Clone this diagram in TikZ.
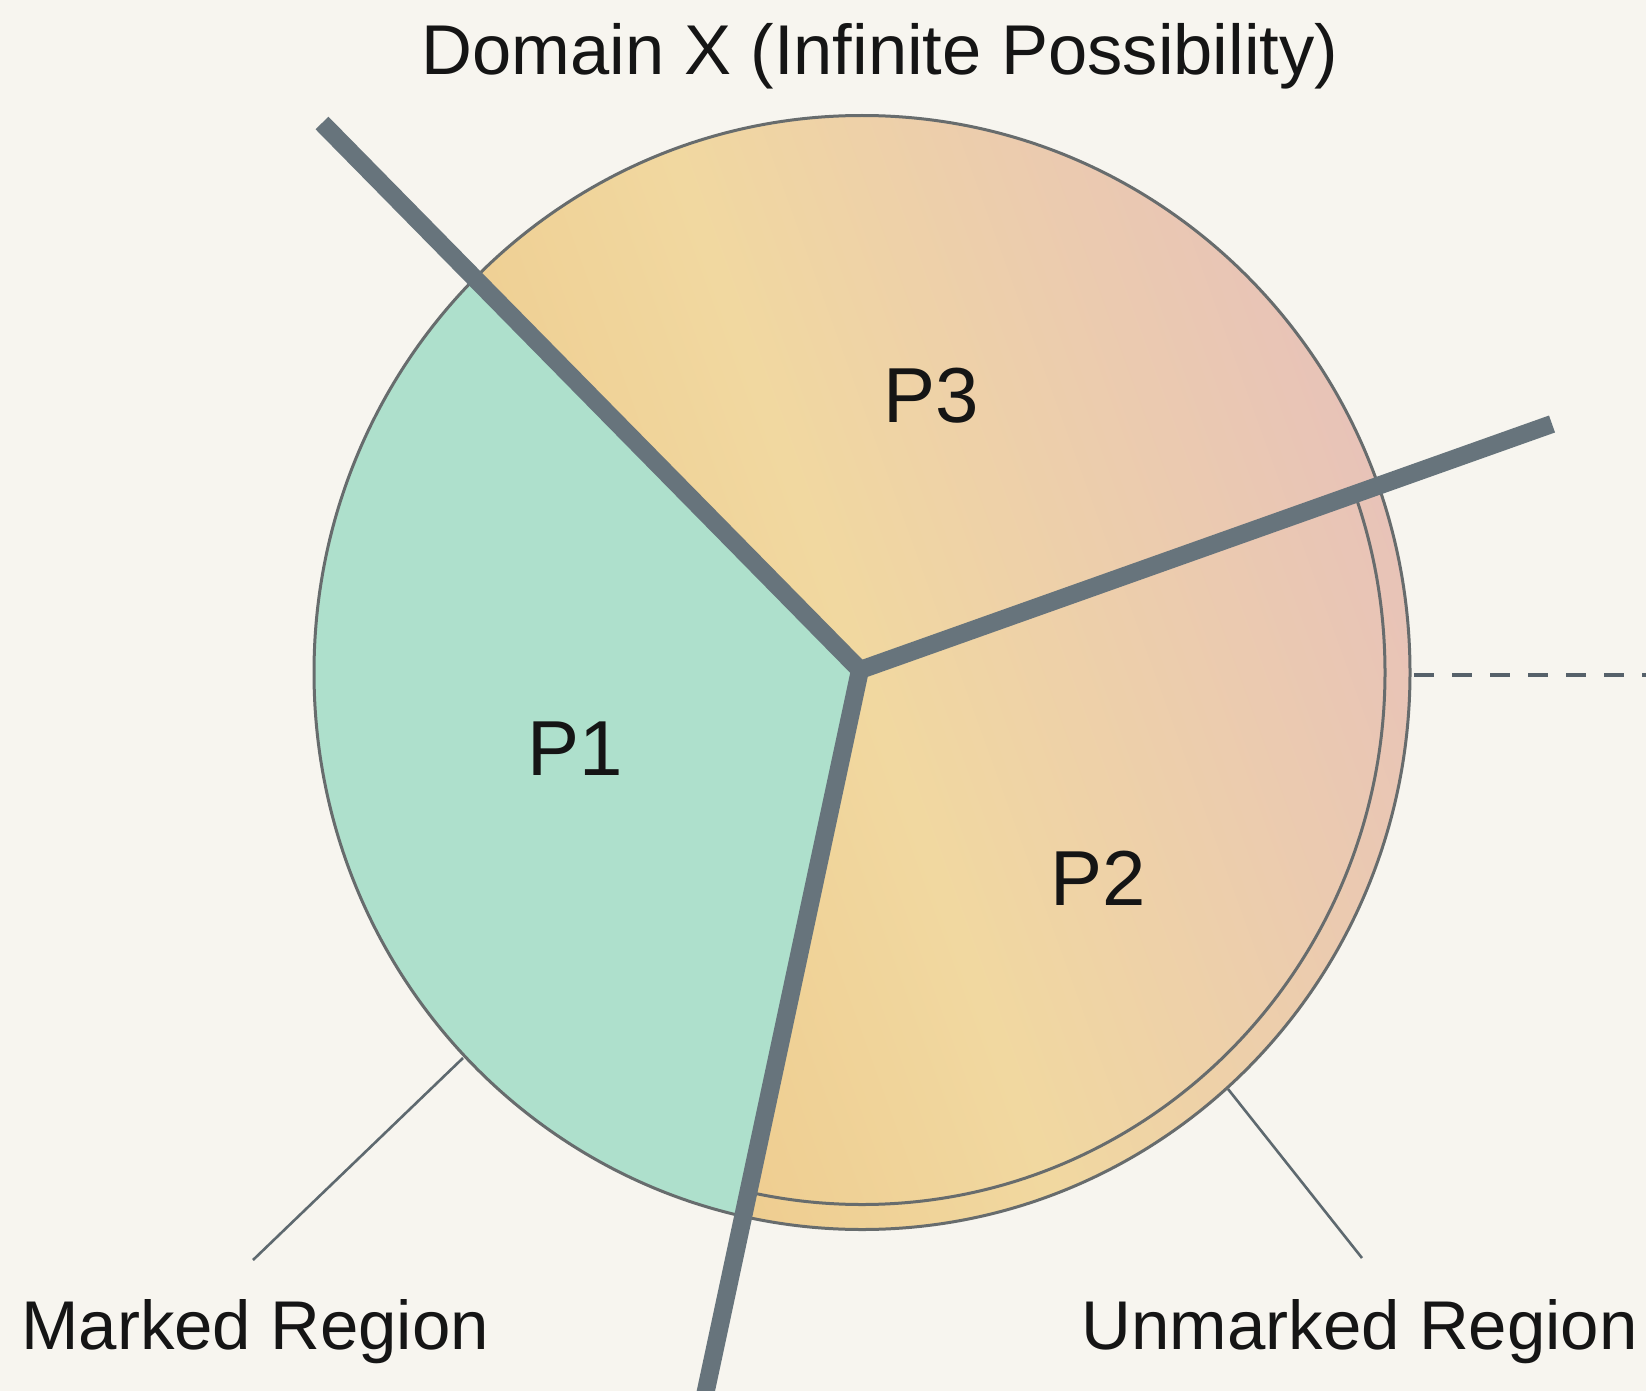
\documentclass[tikz,border=0pt]{standalone}
\usepackage{fontspec}
\setmainfont{Liberation Sans}
\definecolor{bg}{HTML}{F7F5EF}
\definecolor{mint}{HTML}{AEE0CC}
\definecolor{gold}{HTML}{ECC483}
\definecolor{yel}{HTML}{F1D8A0}
\definecolor{pinkc}{HTML}{E8C3B8}
\definecolor{rim}{HTML}{676C6D}
\definecolor{bar}{HTML}{67747C}
\definecolor{dash}{HTML}{56616A}
\definecolor{lead}{HTML}{5E696F}
\definecolor{ink}{HTML}{151515}
\begin{document}
\begin{tikzpicture}[x=1pt,y=-1pt,
  bigtext/.style={font=\fontsize{69}{80}\selectfont, text=ink, inner sep=0pt},
  ptext/.style={font=\fontsize{78}{90}\selectfont, text=ink, inner sep=0pt},
  rimline/.style={draw=rim, line width=3pt},
  divider/.style={draw=bar, line width=18pt, line join=miter},
  leader/.style={draw=lead, line width=2.6pt},
  dashline/.style={draw=dash, line width=4pt, dash pattern=on 20pt off 18pt},
  warmfill/.style={left color=gold, right color=pinkc, middle color=yel, shading angle=110}
]
\fill[bg] (0,0) rectangle (1646,1391);
\useasboundingbox (0,0) rectangle (1646,1391);
% geometry
\coordinate (C) at (862,672.5);
\coordinate (J) at (860,670);
\coordinate (ul) at (322,123);
\coordinate (rt) at (1552,424);
\coordinate (bt) at (705,1395);
% disk
\shade[warmfill] (C) ellipse [x radius=548pt, y radius=557pt];
\begin{scope}
  \clip (J) -- (rt) -- (1650,424) -- (1650,1395) -- (bt) -- cycle;
  \draw[rimline] (C) ellipse [x radius=523pt, y radius=532pt];
\end{scope}
\begin{scope}
  \clip (C) ellipse [x radius=548pt, y radius=557pt];
  \fill[mint] (J) -- (ul) -- (0,123) -- (0,1395) -- (bt) -- cycle;
\end{scope}
\draw[rimline] (C) ellipse [x radius=548pt, y radius=557pt];
% dividers
\draw[divider] (ul) -- (J) -- (bt);
\draw[divider] (J) -- (rt);
% dashed line
\coordinate (ds) at (1414,675);
\coordinate (de) at (1650,675);
\draw[dashline] (ds) -- (de);
% labels
\node[bigtext, anchor=base, font=\fontsize{70.5}{80}\selectfont] (title) at (880,75) {Domain X (Infinite Possibility)};
\node[ptext] (p3) at (931,396) {P3};
\node[ptext] (p1) at (575,749) {P1};
\node[ptext] (p2) at (1098,878) {P2};
\node[bigtext, anchor=base west] (mk) at (21,1349) {Marked Region};
\node[bigtext, anchor=base east] (um) at (1638,1349) {Unmarked Region};
% leaders
\coordinate (mka) at (463,1058);
\coordinate (mkb) at (253,1260);
\draw[leader] (mka) -- (mkb);
\coordinate (uma) at (1228,1089);
\coordinate (umb) at (1362,1258);
\draw[leader] (uma) -- (umb);
\end{tikzpicture}
\end{document}
